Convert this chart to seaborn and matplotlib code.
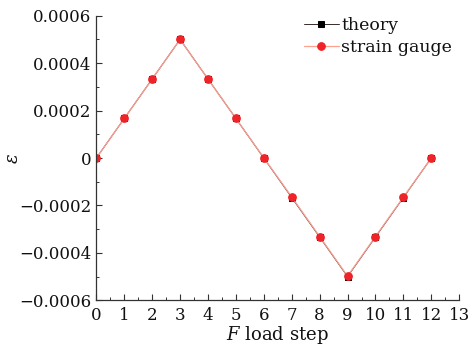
import matplotlib
matplotlib.use("Agg")
import matplotlib.pyplot as plt
import seaborn as sns
import pandas as pd
from matplotlib.ticker import MultipleLocator, FixedLocator

steps = list(range(13))
theory = [0, 0.0001667, 0.0003333, 0.0005, 0.0003333, 0.0001667, 0,
          -0.0001667, -0.0003333, -0.0005, -0.0003333, -0.0001667, 0]
gauge = [0, 0.0001667, 0.0003333, 0.0005, 0.0003333, 0.0001667, 0.000001,
         -0.000164, -0.000331, -0.000498, -0.000331, -0.000165, 0]
yticks = [-0.0006, -0.0004, -0.0002, 0, 0.0002, 0.0004, 0.0006]
ytick_labels = ["\u22120.0006", "\u22120.0004", "\u22120.0002", "0", "0.0002", "0.0004", "0.0006"]

sns.set_theme(style="ticks")
plt.rcParams['font.family'] = ['DejaVu Serif']
plt.rcParams['mathtext.fontset'] = 'dejavuserif'

df = pd.DataFrame({"step": steps * 2, "eps": theory + gauge,
                   "series": ["theory"] * 13 + ["strain gauge"] * 13})

fig, ax = plt.subplots(figsize=(4.7, 3.5), dpi=100)
sns.lineplot(data=df[df.series == "theory"], x="step", y="eps", ax=ax,
             color="#3a2a28", lw=0.7, marker="s", markersize=4.0,
             markeredgecolor="black", markerfacecolor="black", label="theory")
sns.lineplot(data=df[df.series == "strain gauge"], x="step", y="eps", ax=ax,
             color="#ffa090", lw=0.9, marker="o", markersize=5.5,
             markerfacecolor="#ee2428", markeredgecolor="#ee2428", label="strain gauge")

ax.set_xlim(0, 13)
ax.set_ylim(-0.0006, 0.0006)
ax.xaxis.set_major_locator(MultipleLocator(1))
ax.xaxis.set_minor_locator(MultipleLocator(0.5))
ax.yaxis.set_major_locator(FixedLocator(yticks))
ax.set_yticklabels(ytick_labels)
ax.yaxis.set_minor_locator(MultipleLocator(0.0001))
ax.tick_params(which="both", direction="in", labelsize=12, color="#333333", labelcolor="#111111")
ax.tick_params(which="major", length=4, width=0.8)
ax.tick_params(which="minor", length=2, width=0.7)
ax.tick_params(axis="x", pad=5)
for s in ["top", "right"]:
    ax.spines[s].set_visible(False)
for s in ["left", "bottom"]:
    ax.spines[s].set_linewidth(0.9)
    ax.spines[s].set_color("#333333")

ax.set_xlabel("$\\it{F}$ load step", fontsize=13, labelpad=0, color="#111111")
ax.set_ylabel("$\\it{\\varepsilon}$", fontsize=13, color="#111111")
ax.yaxis.set_label_coords(-0.205, 0.5)

leg = ax.legend(loc="upper right", frameon=False, fontsize=12.5, handlelength=2.0,
                handletextpad=0.15, borderaxespad=0.0, labelspacing=0.3,
                bbox_to_anchor=(1.0, 1.02))
for t in leg.get_texts():
    t.set_color("#111111")

fig.subplots_adjust(left=0.205, right=0.977, top=0.955, bottom=0.142)
fig.savefig("out.png", dpi=100)
